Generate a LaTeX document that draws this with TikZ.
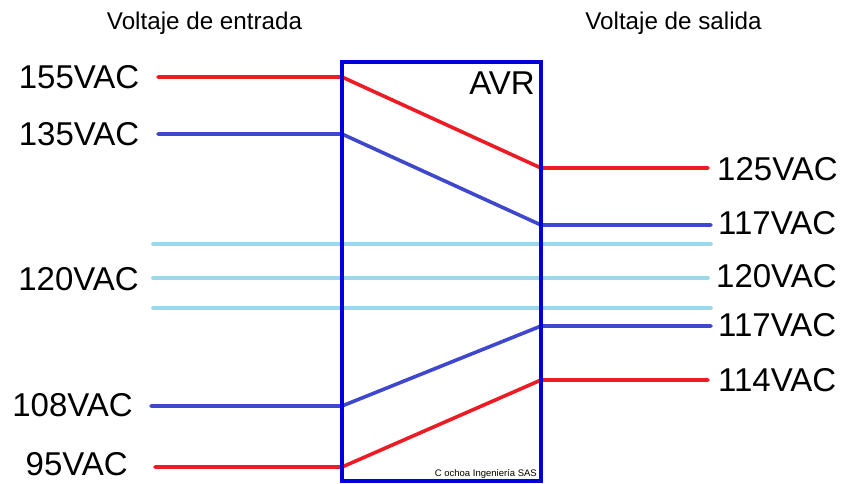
\documentclass[tikz,border=0pt]{standalone}
\usepackage{fontspec}
\setmainfont{Liberation Sans}
\definecolor{cred}{RGB}{237,28,36}
\definecolor{cblue}{RGB}{63,72,204}
\definecolor{clight}{RGB}{153,217,234}
\definecolor{cbox}{RGB}{0,0,220}
\begin{document}
\begin{tikzpicture}[x=1pt,y=-1pt,
  sig/.style={line width=3.6pt,line cap=round,line join=round},
  redl/.style={sig,draw=cred},
  bluel/.style={sig,draw=cblue},
  lightl/.style={sig,draw=clight},
  big/.style={font=\fontsize{33}{37}\selectfont,inner sep=0pt},
  head/.style={font=\fontsize{24.2}{28}\selectfont,inner sep=0pt},
  avrbox/.style={draw=cbox,line width=4pt}]
\useasboundingbox (0,0) rectangle (852,483);
% headers
\node[head] (hin) at (204.5,23) {Voltaje de entrada};
\node[head] (hout) at (673.5,23) {Voltaje de salida};
% box
\coordinate (bl) at (342,62);
\coordinate (br) at (541,481);
\draw[avrbox] (bl) rectangle (br);
\node[big,anchor=north east] (avr) at (535,72) {AVR};
\node[font=\fontsize{9.5}{11}\selectfont,inner sep=0pt,anchor=south east] (copy) at (537,479) {C ochoa Ingeniería SAS};
% left labels
\node[big,anchor=east] (l155) at (139.5,77) {155VAC};
\node[big,anchor=east] (l135) at (139.5,134) {135VAC};
\node[big,anchor=east] (l120) at (139,279) {120VAC};
\node[big,anchor=east] (l108) at (133,405) {108VAC};
\node[big,text depth=0pt,anchor=base east] (l95) at (128,475) {95VAC};
% right labels
\node[big,anchor=west] (r125) at (717,169) {125VAC};
\node[big,anchor=west] (r117a) at (718,223) {117VAC};
\node[big,anchor=west] (r120) at (716,276) {120VAC};
\node[big,anchor=west] (r117b) at (718,325) {117VAC};
\node[big,anchor=west] (r114) at (718,380) {114VAC};
% coordinates
\coordinate (a0) at (158,77);  \coordinate (a1) at (342,77);  \coordinate (a2) at (541,168); \coordinate (a3) at (708,168);
\coordinate (b0) at (158,134); \coordinate (b1) at (342,134); \coordinate (b2) at (541,225); \coordinate (b3) at (711,225);
\coordinate (c0) at (153,244); \coordinate (c1) at (711,244);
\coordinate (d0) at (153,278); \coordinate (d1) at (708,278);
\coordinate (e0) at (153,308); \coordinate (e1) at (711,308);
\coordinate (f0) at (151,406); \coordinate (f1) at (342,406); \coordinate (f2) at (541,326); \coordinate (f3) at (711,326);
\coordinate (g0) at (155,467); \coordinate (g1) at (342,467); \coordinate (g2) at (541,380); \coordinate (g3) at (708,380);
% lines
\draw[lightl] (c0) -- (c1);
\draw[lightl] (d0) -- (d1);
\draw[lightl] (e0) -- (e1);
\draw[redl] (a0) -- (a1) -- (a2) -- (a3);
\draw[bluel] (b0) -- (b1) -- (b2) -- (b3);
\draw[bluel] (f0) -- (f1) -- (f2) -- (f3);
\draw[redl] (g0) -- (g1) -- (g2) -- (g3);
% box sides over lines
\draw[cbox,line width=4pt] (342,62) -- (342,481) (541,62) -- (541,481);
\end{tikzpicture}
\end{document}
